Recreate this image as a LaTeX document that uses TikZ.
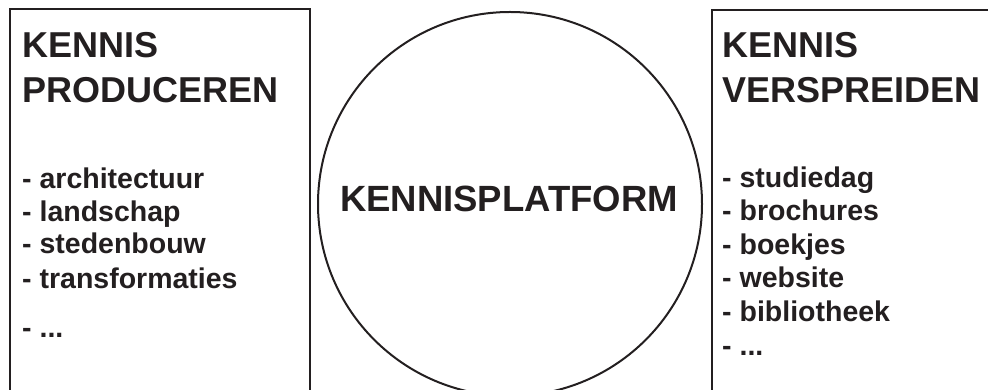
\documentclass[tikz,border=0pt]{standalone}
\usepackage{fontspec}
\setmainfont{Liberation Sans}
\definecolor{ink}{HTML}{231F20}
\begin{document}
\begin{tikzpicture}[x=1pt,y=1pt,
  frame/.style={draw=ink,line width=2pt},
  title/.style={anchor=base west,inner sep=0pt,font=\fontsize{36}{40}\selectfont\bfseries,text=ink},
  item/.style={anchor=base west,inner sep=0pt,font=\fontsize{28.5}{32}\selectfont\bfseries,text=ink}]
\useasboundingbox (0,0) rectangle (988,390);
\clip (0,0) rectangle (988,390);
% left box
\draw[frame] (10,-10) rectangle (310,381);
% right box
\draw[frame] (712,-10) rectangle (1000,380);
% circle
\node[frame,circle,minimum size=384pt,inner sep=0pt] (platform) at (510,186) {};
\node[anchor=base,inner sep=0pt,font=\fontsize{36.5}{40}\selectfont\bfseries,text=ink] (ptext) at (509,178) {KENNISPLATFORM};
% left texts
\node[title] (lt1) at (22,332) {KENNIS};
\node[title] (lt2) at (22,287) {PRODUCEREN};
\node[item] (l1) at (22,201) {- architectuur};
\node[item] (l2) at (22,168) {- landschap};
\node[item] (l3) at (22,136) {- stedenbouw};
\node[item] (l4) at (22,101) {- transformaties};
\node[item] (l5) at (22,52) {- ...};
% right texts
\node[title] (rt1) at (722,332) {KENNIS};
\node[title] (rt2) at (722,287) {VERSPREIDEN};
\node[item] (r1) at (722,202) {- studiedag};
\node[item] (r2) at (722,169) {- brochures};
\node[item] (r3) at (722,135) {- boekjes};
\node[item] (r4) at (722,102) {- website};
\node[item] (r5) at (722,68) {- bibliotheek};
\node[item] (r6) at (722,34) {- ...};
\end{tikzpicture}
\end{document}
